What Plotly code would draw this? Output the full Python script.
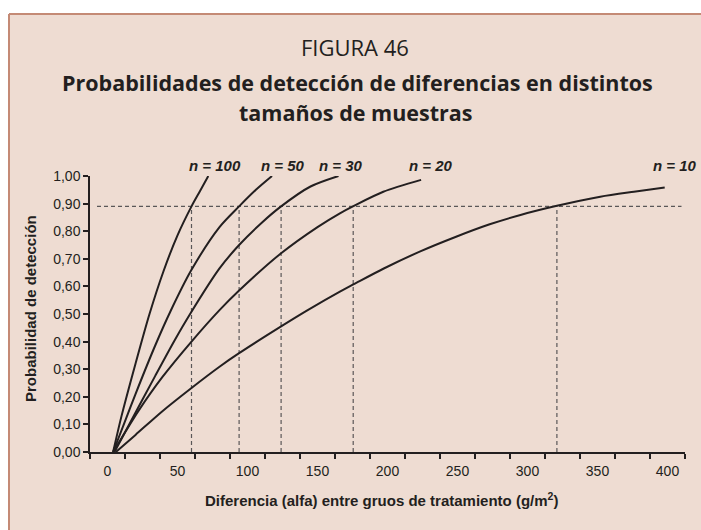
import plotly.graph_objects as go

# ---- data ----
n100_x = [4, 10, 20, 30, 40, 50, 60, 66, 72]
n100_y = [0.0, 0.13, 0.32, 0.50, 0.655, 0.785, 0.89, 0.945, 1.0]

n50_x = [4, 12, 20, 34, 45, 60, 80, 94, 106, 117.5]
n50_y = [0.0, 0.105, 0.21, 0.385, 0.51, 0.66, 0.815, 0.89, 0.95, 1.0]

n30_x = [5, 15, 34, 48, 59, 80, 94, 110, 124, 145, 165]
n30_y = [0.0, 0.095, 0.275, 0.405, 0.50, 0.665, 0.75, 0.83, 0.89, 0.962, 1.0]

n20_x = [4, 13, 22, 39, 60, 80, 94, 124, 150, 166, 176, 197, 224]
n20_y = [0.0, 0.075, 0.148, 0.27, 0.40, 0.514, 0.585, 0.72, 0.815, 0.865, 0.892, 0.943, 0.986]

n10_x = [6, 20, 39, 60, 80, 94, 124, 143, 166, 176, 197, 223, 249, 273, 295, 321, 352, 376, 398]
n10_y = [0.0, 0.062, 0.147, 0.232, 0.309, 0.358, 0.455, 0.514, 0.581, 0.608, 0.664, 0.726,
         0.78, 0.825, 0.859, 0.892, 0.925, 0.943, 0.958]

curve_labels = ["n = 100", "n = 50", "n = 30", "n = 20", "n = 10"]
label_x = [77, 125, 167, 231, 405]

umbral = 0.89
cruce_x = [60, 94, 124, 175.5, 321]
linea_umbral_x = [-7.5, 410]

x_ticks = [0, 50, 100, 150, 200, 250, 300, 350, 400]
y_ticks = [0, 0.1, 0.2, 0.3, 0.4, 0.5, 0.6, 0.7, 0.8, 0.9, 1.0]

INK = "#231f20"
DASH = "#5a5758"
BG = "#eedcd2"
BORDER = "#c48a75"

fig = go.Figure()

# dashed guide lines
fig.add_trace(go.Scatter(x=linea_umbral_x, y=[umbral, umbral], mode="lines",
                         line=dict(color=DASH, width=1.2, dash="4px,3px"),
                         showlegend=False, hoverinfo="skip"))
for cx in cruce_x:
    fig.add_trace(go.Scatter(x=[cx, cx], y=[0, umbral], mode="lines",
                             line=dict(color=DASH, width=1.2, dash="4px,3px"),
                             showlegend=False, hoverinfo="skip"))

for xs, ys in [(n100_x, n100_y), (n50_x, n50_y), (n30_x, n30_y), (n20_x, n20_y), (n10_x, n10_y)]:
    fig.add_trace(go.Scatter(x=xs, y=ys, mode="lines",
                             line=dict(color=INK, width=2, shape="spline", smoothing=0.8),
                             showlegend=False, hoverinfo="skip"))

# layout geometry (pixels)
W, H = 701, 530
L, R, T, B = 90, 16, 176, 78
pw, ph = W - L - R, H - T - B

def px(xp):
    return (xp - L) / pw

def py(yp):
    return (H - B - yp) / ph

annotations = []
for txt, lx in zip(curve_labels, label_x):
    annotations.append(dict(x=lx, y=py(165), xref="x", yref="paper", text="<b><i>" + txt + "</i></b>",
                            showarrow=False, font=dict(family="Liberation Sans", size=15, color=INK),
                            xanchor="center", yanchor="middle"))

annotations += [
    dict(x=px(355), y=py(47), xref="paper", yref="paper", text="FIGURA 46", showarrow=False,
         font=dict(family="Open Sans", size=22, color=INK), xanchor="center", yanchor="middle"),
    dict(x=px(357), y=py(82), xref="paper", yref="paper",
         text="<b>Probabilidades de detección de diferencias en distintos</b>", showarrow=False,
         font=dict(family="Open Sans", size=21.5, color=INK), xanchor="center", yanchor="middle"),
    dict(x=px(355), y=py(112), xref="paper", yref="paper", text="<b>tamaños de muestras</b>", showarrow=False,
         font=dict(family="Open Sans", size=21.5, color=INK), xanchor="center", yanchor="middle"),
    dict(x=px(381), y=py(500), xref="paper", yref="paper",
         text="<b>Diferencia (alfa) entre gruos de tratamiento (g/m<sup>2</sup>)</b>", showarrow=False,
         font=dict(family="Liberation Sans", size=15, color=INK), xanchor="center", yanchor="middle"),
    dict(x=px(30), y=py(309), xref="paper", yref="paper", text="<b>Probabilidad de detección</b>",
         textangle=-90, showarrow=False,
         font=dict(family="Liberation Sans", size=15, color=INK), xanchor="center", yanchor="middle"),
]

shapes = [
    dict(type="rect", xref="paper", yref="paper", x0=px(9), x1=px(701), y0=py(530), y1=py(14),
         fillcolor=BG, line=dict(width=0), layer="below"),
    dict(type="line", xref="paper", yref="paper", x0=px(9), x1=px(701), y0=py(14), y1=py(14),
         line=dict(color=BORDER, width=2), layer="below"),
    dict(type="line", xref="paper", yref="paper", x0=px(9), x1=px(9), y0=py(14), y1=py(530),
         line=dict(color=BORDER, width=2), layer="below"),
]

fig.update_layout(
    width=W, height=H,
    margin=dict(l=L, r=R, t=T, b=B),
    paper_bgcolor="white",
    plot_bgcolor="rgba(0,0,0,0)",
    separators=",.",
    showlegend=False,
    annotations=annotations,
    shapes=shapes,
    xaxis=dict(range=[-12.5, 412.5], tickmode="array", tickvals=x_ticks,
               ticks="outside", ticklen=5, tickcolor="rgba(0,0,0,0)",
               showline=True, linecolor=INK, linewidth=1.5, showgrid=False, zeroline=False,
               tickfont=dict(family="Liberation Sans", size=14, color=INK),
               minor=dict(tickmode="linear", tick0=-12.5, dtick=25, ticks="outside", ticklen=5,
                          tickcolor=INK, tickwidth=1.5, showgrid=False)),
    yaxis=dict(range=[0, 1], tickmode="array", tickvals=y_ticks, tickformat=".2f",
               ticks="outside", ticklen=5, tickcolor=INK, tickwidth=1.5,
               showline=True, linecolor=INK, linewidth=1.5, showgrid=False, zeroline=False,
               tickfont=dict(family="Liberation Sans", size=14, color=INK)),
)

fig.write_html("out.html", config={"displayModeBar": False},
               post_script="document.body.style.margin='0';document.body.style.overflow='hidden';")
